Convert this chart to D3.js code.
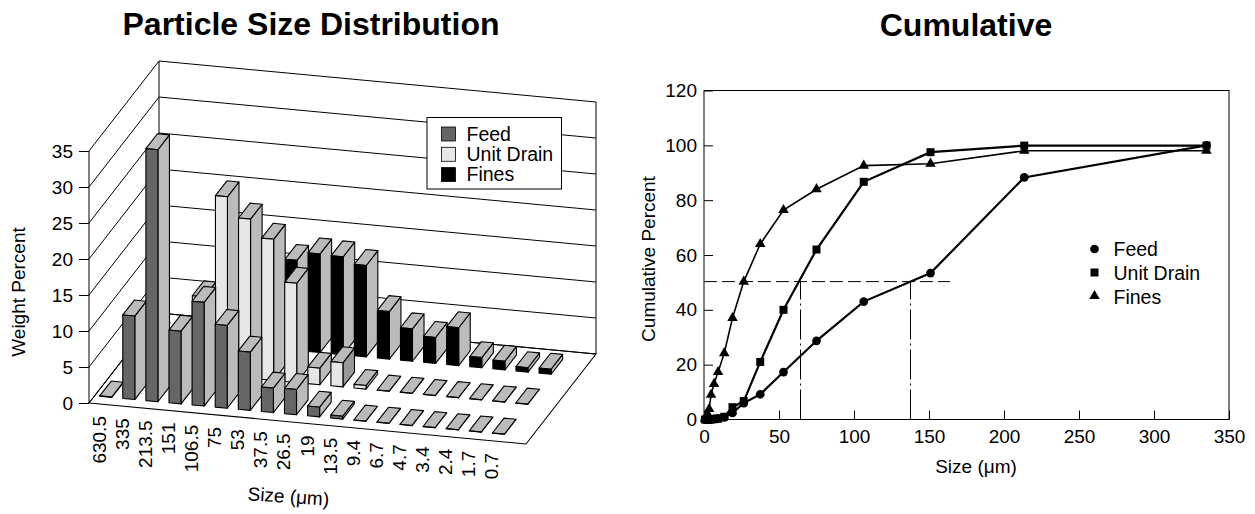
<!DOCTYPE html>
<html>
<head>
<meta charset="utf-8">
<title>Particle Size</title>
<script src="https://cdn.jsdelivr.net/npm/d3@7"></script>
<style>
    html, body { margin: 0; padding: 0; background: white; }
    svg { display: block; }
    text { font-family: "Liberation Sans", Arial, sans-serif; fill: black; }
    .tick text { font-size: 19px; font-family: "Liberation Sans", Arial, sans-serif; }
</style>
</head>
<body>
<svg id="chart" width="1255" height="514"></svg>
<script>
    // bars, left chart
    var sizeLabels = ["630.5", "335", "213.5", "151", "106.5", "75", "53", "37.5", "26.5", "19", "13.5", "9.4", "6.7", "4.7", "3.4", "2.4", "1.7", "0.7"];
    var feedWeight = [0.05, 11.6, 35, 10.1, 14.4, 11.5, 8.1, 3.4, 3.5, 1.35, 0.4, 0.02, 0.02, 0.02, 0.02, 0.02, 0.02, 0.02];
    var drainWeight = [0, 0, 2, 10.7, 24.9, 22.1, 19.6, 13.8, 2.3, 3.35, 0.5, 0.02, 0.02, 0.02, 0.02, 0.02, 0.02, 0.02];
    var finesWeight = [0, 0, 4.5, 0.5, 9, 7.5, 12.5, 13.7, 13.6, 12.7, 6.6, 4.5, 3.6, 5.25, 1.4, 1.2, 0.6, 0.7];
    var weightTicks = [0, 5, 10, 15, 20, 25, 30, 35];

    // lines, right chart
    var cumSizes = [0.7, 1.7, 2.4, 3.4, 4.7, 6.7, 9.4, 13.5, 19, 26.5, 37.5, 53, 75, 106.5, 151, 213.5, 335];
    var feedCum = [0, 0, 0, 0.1, 0.1, 0.2, 0.4, 0.8, 2.4, 6, 9.2, 17.3, 28.7, 43, 53.4, 88.3, 100];
    var drainCum = [0, 0, 0, 0, 0, 0.1, 0.3, 1, 4.5, 6.7, 21, 40, 62, 86.7, 97.5, 99.9, 99.9];
    var finesCum = [0.3, 1, 2, 3.8, 9, 13, 17.3, 24.2, 37, 50.3, 64, 76.4, 84, 92.6, 93.3, 98, 98];
    var cumXTicks = [0, 50, 100, 150, 200, 250, 300, 350];
    var cumYTicks = [0, 20, 40, 60, 80, 100, 120];
    var median = 50.3, medianSizes = [63.9, 137.3], medianEnd = 164;

    var svg = d3.select("#chart");

    function label(x, y, str, size, opts) {
        opts = opts || {};
        var t = svg.append("text").attr("x", x).attr("y", y).style("font-size", size + "px").text(str);
        if (opts.anchor) t.attr("text-anchor", opts.anchor);
        if (opts.bold) t.style("font-weight", "bold");
        if (opts.rotate != undefined) t.attr("transform", "rotate(" + opts.rotate + " " + x + " " + y + ")");
        return t;
    }

    label(311, 35, "Particle Size Distribution", 32, {anchor: "middle", bold: true});
    label(966, 36, "Cumulative", 32, {anchor: "middle", bold: true});

    //---- left chart, oblique 3d ----
    var ox = 89, oy = 403, floorW = 437, floorDrop = 41, depthX = 70, depthY = 90;
    var catX = d3.scaleBand().domain(sizeLabels).range([0, 414.9]).paddingInner(0.48).paddingOuter(0.22);
    var v = d3.scaleLinear().domain([0, 35]).range([0, 252]);

    function project(px, depth, val) {
        return [ox + px + depth * depthX, oy + px * floorDrop / floorW - depth * depthY - v(val)];
    }
    function poly(g, pts, fill) {
        g.append("polygon")
            .attr("points", pts.map(p => p.join(",")).join(" "))
            .attr("fill", fill)
            .attr("stroke", "black")
            .attr("stroke-width", 1.1)
            .attr("stroke-linejoin", "round");
    }

    var walls = svg.append("g");
    poly(walls, [project(0, 0, 0), project(floorW, 0, 0), project(floorW, 1, 0), project(0, 1, 0)], "white");
    weightTicks.forEach(function(d) {
        var a = project(0, 0, d), b = project(0, 1, d), c = project(floorW, 1, d);
        walls.append("path").attr("d", d3.line()([a, b, c])).attr("fill", "none").attr("stroke", "black");
    });
    [[0, 0], [0, 1], [floorW, 1]].forEach(function(e) {
        walls.append("path").attr("d", d3.line()([project(e[0], e[1], 0), project(e[0], e[1], 35)])).attr("stroke", "black");
    });

    var yWeight = d3.scaleLinear().domain([0, 35]).range([oy, oy - 252]);
    svg.append("g").attr("transform", "translate(" + ox + ",0)")
        .call(d3.axisLeft(yWeight).tickValues(weightTicks).tickSize(10).tickPadding(6))
        .call(g => g.select(".domain").remove());

    var rowDepth = 1 / 3, barStart = 0.08, barDepth = 0.165;
    var rows = [
        {vals: finesWeight, row: 2, color: "black"},
        {vals: drainWeight, row: 1, color: "#e6e6e6"},
        {vals: feedWeight, row: 0, color: "#666666"}
    ];
    rows.forEach(function(r) {
        var g = svg.append("g");
        r.vals.forEach(function(val, i) {
            var x0 = catX(sizeLabels[i]), x1 = x0 + catX.bandwidth();
            var d0 = barStart + r.row * rowDepth, d1 = d0 + barDepth;
            // the drain bar at 19 has a darker side
            var side = (r.row == 1 && sizeLabels[i] == "19") ? "#999999" : "#bbbbbb";
            poly(g, [project(x1, d0, 0), project(x1, d1, 0), project(x1, d1, val), project(x1, d0, val)], side);
            poly(g, [project(x0, d0, val), project(x1, d0, val), project(x1, d1, val), project(x0, d1, val)], "#bbbbbb");
            poly(g, [project(x0, d0, 0), project(x1, d0, 0), project(x1, d0, val), project(x0, d0, val)], r.color);
        });
    });

    sizeLabels.forEach(function(s) {
        var p = project(catX(s) + catX.bandwidth() / 2, 0, 0);
        label(p[0] + 5.5, p[1] + 12, s, 19, {anchor: "end", rotate: -90});
    });

    label(25, 292, "Weight Percent", 19, {anchor: "middle", rotate: -90});
    label(288, 503, "Size (μm)", 19, {anchor: "middle", rotate: 4});

    var legend3d = svg.append("g");
    legend3d.append("rect").attr("x", 427).attr("y", 117.5).attr("width", 134.5).attr("height", 71.5)
        .attr("fill", "white").attr("stroke", "black");
    [["Feed", "#666666"], ["Unit Drain", "#e6e6e6"], ["Fines", "black"]].forEach(function(d, i) {
        legend3d.append("rect").attr("x", 441.5).attr("y", 127 + i * 20.3).attr("width", 14).attr("height", 14)
            .attr("fill", d[1]).attr("stroke", "black").attr("stroke-width", 0.8);
        label(466.5, 141 + i * 20.2, d[0], 19.5);
    });

    //---- right chart ----
    var x = d3.scaleLinear().domain([0, 350]).range([704, 1229]);
    var y = d3.scaleLinear().domain([0, 120]).range([419.5, 90.5]);

    svg.append("rect").attr("x", x(0)).attr("y", y(120)).attr("width", x(350) - x(0)).attr("height", y(0) - y(120))
        .attr("fill", "none").attr("stroke", "black");
    svg.append("g").attr("transform", "translate(0," + y(0) + ")")
        .call(d3.axisBottom(x).tickValues(cumXTicks).tickSize(-9).tickPadding(10))
        .call(g => g.select(".domain").remove());
    svg.append("g").attr("transform", "translate(" + x(0) + ",0)")
        .call(d3.axisLeft(y).tickValues(cumYTicks).tickSize(-9).tickPadding(7))
        .call(g => g.select(".domain").remove());

    svg.append("path").attr("d", d3.line()([[x(0), y(median)], [x(medianEnd), y(median)]]))
        .attr("stroke", "black").attr("stroke-dasharray", "13 5");
    medianSizes.forEach(function(m) {
        svg.append("path").attr("d", d3.line()([[Math.round(x(m)) + 0.5, y(0)], [Math.round(x(m)) + 0.5, y(median)]]))
            .attr("stroke", "black").attr("stroke-dasharray", "30 4 2 4");
    });

    var line = d3.line().x((d, i) => x(cumSizes[i])).y(d => y(d));
    var sym = {
        Feed: d3.symbol(d3.symbolCircle, 60),
        Drain: d3.symbol(d3.symbolSquare, 64),
        Fines: d3.symbol(d3.symbolTriangle, 48)
    };
    [[finesCum, "Fines", 1.6], [feedCum, "Feed", 2.2], [drainCum, "Drain", 2.2]].forEach(function(s) {
        svg.append("path").attr("d", line(s[0])).attr("fill", "none").attr("stroke", "black").attr("stroke-width", s[2]);
        svg.append("g").selectAll("path").data(s[0]).join("path")
            .attr("d", sym[s[1]])
            .attr("transform", (d, i) => "translate(" + x(cumSizes[i]) + "," + y(d) + ")");
    });

    [["Feed", sym.Feed], ["Unit Drain", sym.Drain], ["Fines", sym.Fines]].forEach(function(d, i) {
        svg.append("path").attr("d", d[1]).attr("transform", "translate(1094.5," + (249 + i * 23.5) + ")");
        label(1113.5, 256 + i * 24, d[0], 19.5);
    });

    label(976, 473, "Size (μm)", 19, {anchor: "middle"});
    label(655, 259, "Cumulative Percent", 19, {anchor: "middle", rotate: -90});
</script>
</body>
</html>
